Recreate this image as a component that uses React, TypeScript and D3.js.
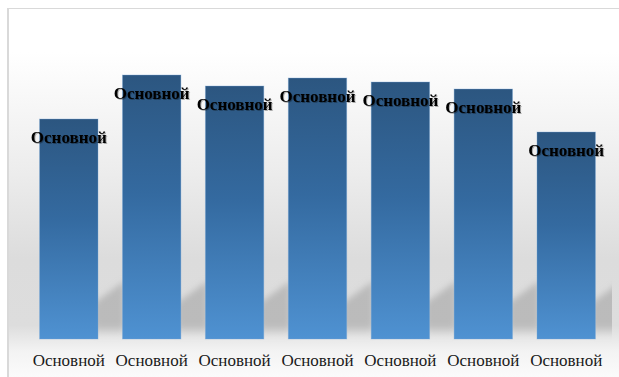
import React from "react";
import * as d3 from "d3";

const categories = ["Основной", "Основной", "Основной", "Основной", "Основной", "Основной", "Основной"];
const values = [220, 264, 253, 261, 257, 250, 207];
const dataLabels = ["Основной", "Основной", "Основной", "Основной", "Основной", "Основной", "Основной"];

const W = 619;
const H = 377;
const baseY = 339;

export default function App() {
  const ids = categories.map((_, i) => i);
  const x = d3
    .scaleBand<number>()
    .domain(ids)
    .range([18, 617])
    .paddingInner(0.295)
    .paddingOuter(0.26);
  const y = d3.scaleLinear().domain([0, 300]).range([baseY, 39]);
  const bw = x.bandwidth();
  const gap = x.step() - bw;

  const shadowPath = (i: number) => {
    const x1 = (x(i) ?? 0) + bw;
    const p = d3.path();
    p.moveTo(x1 - 4, baseY - 3);
    p.lineTo(x1 - 4, baseY - 36);
    p.lineTo(x1 + gap + 2, baseY - 58);
    p.lineTo(x1 + gap + 2, baseY - 3);
    p.closePath();
    return p.toString();
  };

  return (
    <svg
      width={W}
      height={H}
      style={{ position: "absolute", left: 0, top: 0, display: "block" }}
      fontFamily="'Liberation Serif', 'Times New Roman', serif"
    >
      <defs>
        <linearGradient id="bg" x1="0" y1="0" x2="0" y2="1">
          <stop offset="0" stopColor="#ffffff" />
          <stop offset="0.12" stopColor="#ffffff" />
          <stop offset="0.45" stopColor="#ececec" />
          <stop offset="0.68" stopColor="#dcdcdc" />
          <stop offset="0.86" stopColor="#dddddd" />
          <stop offset="0.93" stopColor="#f3f3f3" />
          <stop offset="1" stopColor="#fbfbfb" />
        </linearGradient>
        <linearGradient id="bar" x1="0" y1="0" x2="0" y2="1">
          <stop offset="0" stopColor="#2c5680" />
          <stop offset="0.45" stopColor="#346aa0" />
          <stop offset="1" stopColor="#4f92d2" />
        </linearGradient>
        <linearGradient id="shadowFade" x1="0" y1="0" x2="0" y2="1">
          <stop offset="0" stopColor="#a8a8a8" stopOpacity="0.65" />
          <stop offset="0.8" stopColor="#a8a8a8" stopOpacity="0.65" />
          <stop offset="1" stopColor="#a8a8a8" stopOpacity="0" />
        </linearGradient>
        <filter id="blur" x="-50%" y="-50%" width="200%" height="200%">
          <feGaussianBlur stdDeviation="3" />
        </filter>
        <filter id="glow" x="-10%" y="-30%" width="120%" height="160%">
          <feGaussianBlur in="SourceAlpha" stdDeviation="0.6" result="b" />
          <feOffset in="b" dx="0.5" dy="0.5" result="o" />
          <feFlood floodColor="#000" floodOpacity="0.3" />
          <feComposite in2="o" operator="in" result="s" />
          <feMerge>
            <feMergeNode in="s" />
            <feMergeNode in="SourceGraphic" />
          </feMerge>
        </filter>
        <clipPath id="plotClip">
          <rect x={9} y={9} width={603} height={H - 9} />
        </clipPath>
      </defs>

      {/* chart area */}
      <rect x={8} y={8} width={W - 8} height={H - 8} fill="url(#bg)" />
      <line x1={7} x2={W} y1={8.5} y2={8.5} stroke="#d9d9d9" strokeWidth={1} />
      <line x1={8} x2={8} y1={8} y2={H} stroke="#d9d9d9" strokeWidth={2} />

      {/* floor shadows */}
      <g clipPath="url(#plotClip)">
        {ids.map((i) => (
          <path key={i} d={shadowPath(i)} fill="url(#shadowFade)" filter="url(#blur)" />
        ))}
      </g>

      {/* bars */}
      {ids.map((i) => (
        <rect
          key={i}
          x={x(i)}
          y={y(values[i])}
          width={bw}
          height={baseY - y(values[i])}
          fill="url(#bar)"
          stroke="#7ba9d8"
          strokeOpacity={0.45}
          strokeWidth={0.8}
        />
      ))}

      {/* data labels */}
      {ids.map((i) => (
        <text
          key={i}
          x={(x(i) ?? 0) + bw / 2}
          y={y(values[i]) + 23.5}
          textAnchor="middle"
          fontWeight="bold"
          fontSize={17}
          fill="#000"
          filter="url(#glow)"
        >
          {dataLabels[i]}
        </text>
      ))}

      {/* category axis labels */}
      {ids.map((i) => (
        <text
          key={i}
          x={(x(i) ?? 0) + bw / 2}
          y={366}
          textAnchor="middle"
          fontSize={17}
          fill="#1a1a1a"
        >
          {categories[i]}
        </text>
      ))}
    </svg>
  );
}
